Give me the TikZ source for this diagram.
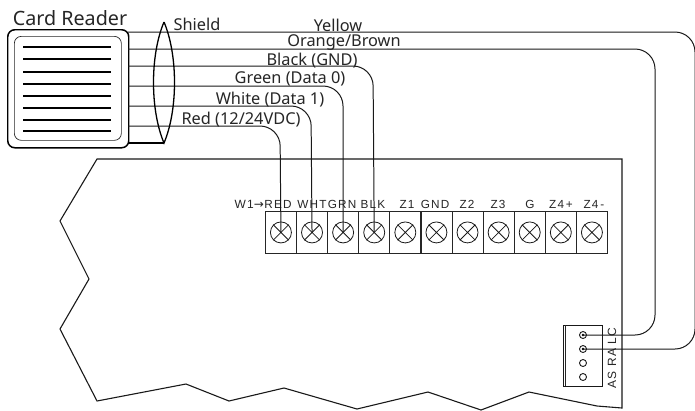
\documentclass[tikz,border=0pt]{standalone}
\usepackage{fontspec}
\setmainfont{Noto Sans}
\newfontfamily\termfont[LetterSpace=10]{Liberation Sans}
\tikzset{
  wire/.style={draw=black!90,line width=1pt,rounded corners=20bp},
  lbl/.style={inner sep=0pt,font=\fontsize{16.4}{18}\selectfont,text=black!85},
  tlbl/.style={inner sep=0pt,font=\termfont\fontsize{11.8}{12}\selectfont,text=black!85},
  cell/.style={draw=black!85,line width=0.85pt,minimum width=31bp,minimum height=42bp,inner sep=0pt,anchor=north west},
  screw/.style={circle,draw=black!90,line width=0.8pt,minimum size=21bp,inner sep=0pt},
  pin/.style={circle,draw=black!90,line width=0.9pt,minimum size=7bp,inner sep=0pt},
  bar/.style={line width=2.3pt},
}
\begin{document}
\begin{tikzpicture}[x=1bp,y=-1bp]
\useasboundingbox (0,0) rectangle (695,410);
\fill[white] (0,0) rectangle (695,410);
% board
\draw[line width=1.1pt,black!90,line join=miter] (97,159) -- (622,159) -- (622,408) -- (597,406) -- (529,392) -- (481,410) -- (428,392) -- (357,409) -- (284,388) -- (229,401) -- (186,384) -- (97,401) -- (60,329) -- (89,279) -- (60,221) -- cycle;
% card reader
\node[draw=black,line width=1.5pt,rounded corners=7bp,minimum width=121bp,minimum height=118bp,inner sep=0pt,anchor=north west] (reader) at (7,29) {};
\node[draw=black!85,line width=0.7pt,rounded corners=7bp,minimum width=107bp,minimum height=104bp,inner sep=0pt,anchor=north west] (inner) at (14,36) {};
\foreach \y in {47,59,72,84,96,108,120,131}
  \draw[bar] (23,\y) -- (111,\y);
\node[inner sep=0pt,font=\fontsize{19.8}{22}\selectfont,text=black!85] (title) at (70,18) {Card Reader};
% terminal block
\foreach \i/\l/\c in {1/RED/278,2/WHT/312,3/GRN/342,4/BLK/373,5/Z1/407,6/GND/435,7/Z2/467,8/Z3/498,9/G/530,10/Z4\,+/561,11/Z4\,-/594}{
  \node[cell] (c\i) at ({265+31.1*(\i-1)},211) {};
  \node[screw] (t\i) at (c\i.center) {};
  \draw[black!90,line width=0.8pt] (t\i.north west) -- (t\i.south east) (t\i.north east) -- (t\i.south west);
  \node[tlbl] (l\i) at (\c,204) {\l};
}
\node[tlbl,anchor=east,font=\fontsize{12}{12}\selectfont\termfont] (w1) at (264,204) {W1\fontspec{DejaVu Sans}→};
% connector block
\node[draw=black!90,line width=1.1pt,minimum width=39bp,minimum height=61bp,inner sep=0pt,anchor=north west] (conn) at (563,325) {};
\draw[black!85,line width=0.7pt] (565.5,325) -- (565.5,386);
\foreach \i/\y in {1/335,2/349,3/363,4/377}
  \node[pin] (p\i) at (583,\y) {};
\fill (p1) circle (1.4bp) (p2) circle (1.4bp);
\node[tlbl,rotate=90,font=\termfont\fontsize{12}{12}\selectfont] (als) at (612,358) {AS RA LC};
% coordinates
\coordinate (ry) at (128,32);
\coordinate (ro) at (128,49);
\coordinate (rk) at (128,66);
\coordinate (rg) at (128,86);
\coordinate (rw) at (128,106);
\coordinate (rr) at (128,126);
\coordinate (rs) at (128,143);
% wires
\draw[wire] (ry) -- (695,32) -- (695,349) -- (p2.center);
\draw[wire] (ro) -- (655,49) -- (655,335) -- (p1.center);
\draw[wire] (rk) -- (373,66) -- (t4.center);
\draw[wire] (rg) -- (343,86) -- (t3.center);
\draw[wire] (rw) -- (311,106) -- (t2.center);
\draw[wire] (rr) -- (280,126) -- (t1.center);
\draw[line width=1.1pt,black] (rs) -- (164,143);
% shield
\draw[line width=1.3pt,black] (164,22) .. controls (150,55) and (150,110) .. (164,143) .. controls (178,110) and (178,55) .. (164,22);
% labels
\node[lbl] (shield) at (197,24.5) {Shield};
\node[lbl] (yellow) at (338,25.5) {Yellow};
\node[lbl] (orange) at (344,42.5) {Orange/Brown};
\node[lbl] (black) at (312,60.5) {Black (GND)};
\node[lbl] (green) at (290,78.5) {Green (Data 0)};
\node[lbl] (whitel) at (270,99.5) {White (Data 1)};
\node[lbl] (red) at (241,119.5) {Red (12/24VDC)};
\end{tikzpicture}
\end{document}
